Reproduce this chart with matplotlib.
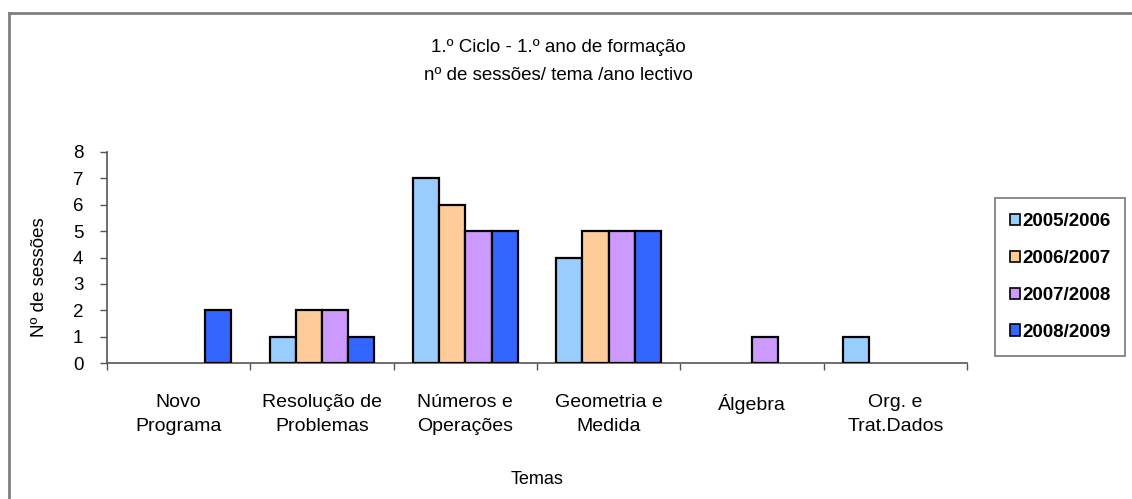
import matplotlib
matplotlib.use("Agg")
import matplotlib.pyplot as plt
from matplotlib.lines import Line2D
from matplotlib.patches import Patch
import numpy as np

plt.rcParams['font.family'] = ['Liberation Sans', 'DejaVu Sans']

categories = ["Novo\nPrograma", "Resolução de\nProblemas", "Números e\nOperações",
              "Geometria e\nMedida", "Álgebra", "Org. e\nTrat.Dados"]
series_names = ["2005/2006", "2006/2007", "2007/2008", "2008/2009"]
v2005 = [0, 1, 7, 4, 0, 1]
v2006 = [0, 2, 6, 5, 0, 0]
v2007 = [0, 2, 5, 5, 1, 0]
v2008 = [2, 1, 5, 5, 0, 0]
series_values = [v2005, v2006, v2007, v2008]
colors = ["#99CCFF", "#FFCC99", "#CC99FF", "#3366FF"]
title_lines = ["1.º Ciclo - 1.º ano de formação", "nº de sessões/ tema /ano lectivo"]
y_label = "Nº de sessões"
x_label = "Temas"

W, H = 1132, 499
fig = plt.figure(figsize=(W / 100, H / 100), dpi=100)

ax_l, ax_r, ax_t, ax_b = 107, 967, 152, 363
ax = fig.add_axes([ax_l / W, 1 - ax_b / H, (ax_r - ax_l) / W, (ax_b - ax_t) / H])

n = len(categories)
bw = 0.183
x = np.arange(n)
for i, (vals, col) in enumerate(zip(series_values, colors)):
    vals = np.asarray(vals, dtype=float)
    offs = x + (i - 1.5) * bw
    mask = vals > 0
    ax.bar(offs[mask], vals[mask], width=bw, color=col, edgecolor="black",
           linewidth=1.6, zorder=3)

ax.set_xlim(-0.5, n - 0.5)
ax.set_ylim(0, 8)
ax.set_yticks(range(0, 9))
ax.tick_params(axis='y', direction='out', length=5, width=1, color="#555555",
               labelsize=13.5, pad=12)
ax.set_xticks(np.arange(-0.5, n, 1.0))
ax.set_xticklabels([])
ax.tick_params(axis='x', direction='out', length=5, width=1, color="#555555")
for s in ["top", "right"]:
    ax.spines[s].set_visible(False)
for s in ["left", "bottom"]:
    ax.spines[s].set_color("#555555")
    ax.spines[s].set_linewidth(1.2)

label_top = 1 - (394 - ax_t) / (ax_b - ax_t)
for xi, lab in zip(x, categories):
    ax.text(xi, label_top, lab, transform=ax.get_xaxis_transform(), ha="center",
            va="top", fontsize=14, linespacing=1.55)

fig.text(558 / W, 1 - 48 / H, title_lines[0], ha="center", va="center", fontsize=13.5)
fig.text(558 / W, 1 - 75 / H, title_lines[1], ha="center", va="center", fontsize=13.5)
fig.text(40 / W, 1 - 277 / H, y_label, ha="center", va="center", rotation=90, fontsize=13.5)
fig.text(537 / W, 1 - 479 / H, x_label, ha="center", va="center", fontsize=13)

# figure border (top and left)
fig.add_artist(Line2D([8.5 / W, 8.5 / W], [0, 1 - 13 / H], transform=fig.transFigure,
                      color="#808080", linewidth=2))
fig.add_artist(Line2D([8.5 / W, 1], [1 - 13 / H, 1 - 13 / H], transform=fig.transFigure,
                      color="#808080", linewidth=2))

handles = [Patch(facecolor=c, edgecolor="black", linewidth=1.2) for c in colors]
leg = fig.legend(handles, series_names, loc="center",
                 bbox_to_anchor=(1060 / W, 1 - 277 / H), frameon=True,
                 fancybox=False, edgecolor="#555555", handlelength=0.55,
                 handleheight=0.55, handletextpad=0.1, labelspacing=1.05,
                 borderpad=0.8, prop={"size": 13.5, "weight": "bold"})
leg.get_frame().set_linewidth(1.2)

fig.savefig("out.png", dpi=100)
